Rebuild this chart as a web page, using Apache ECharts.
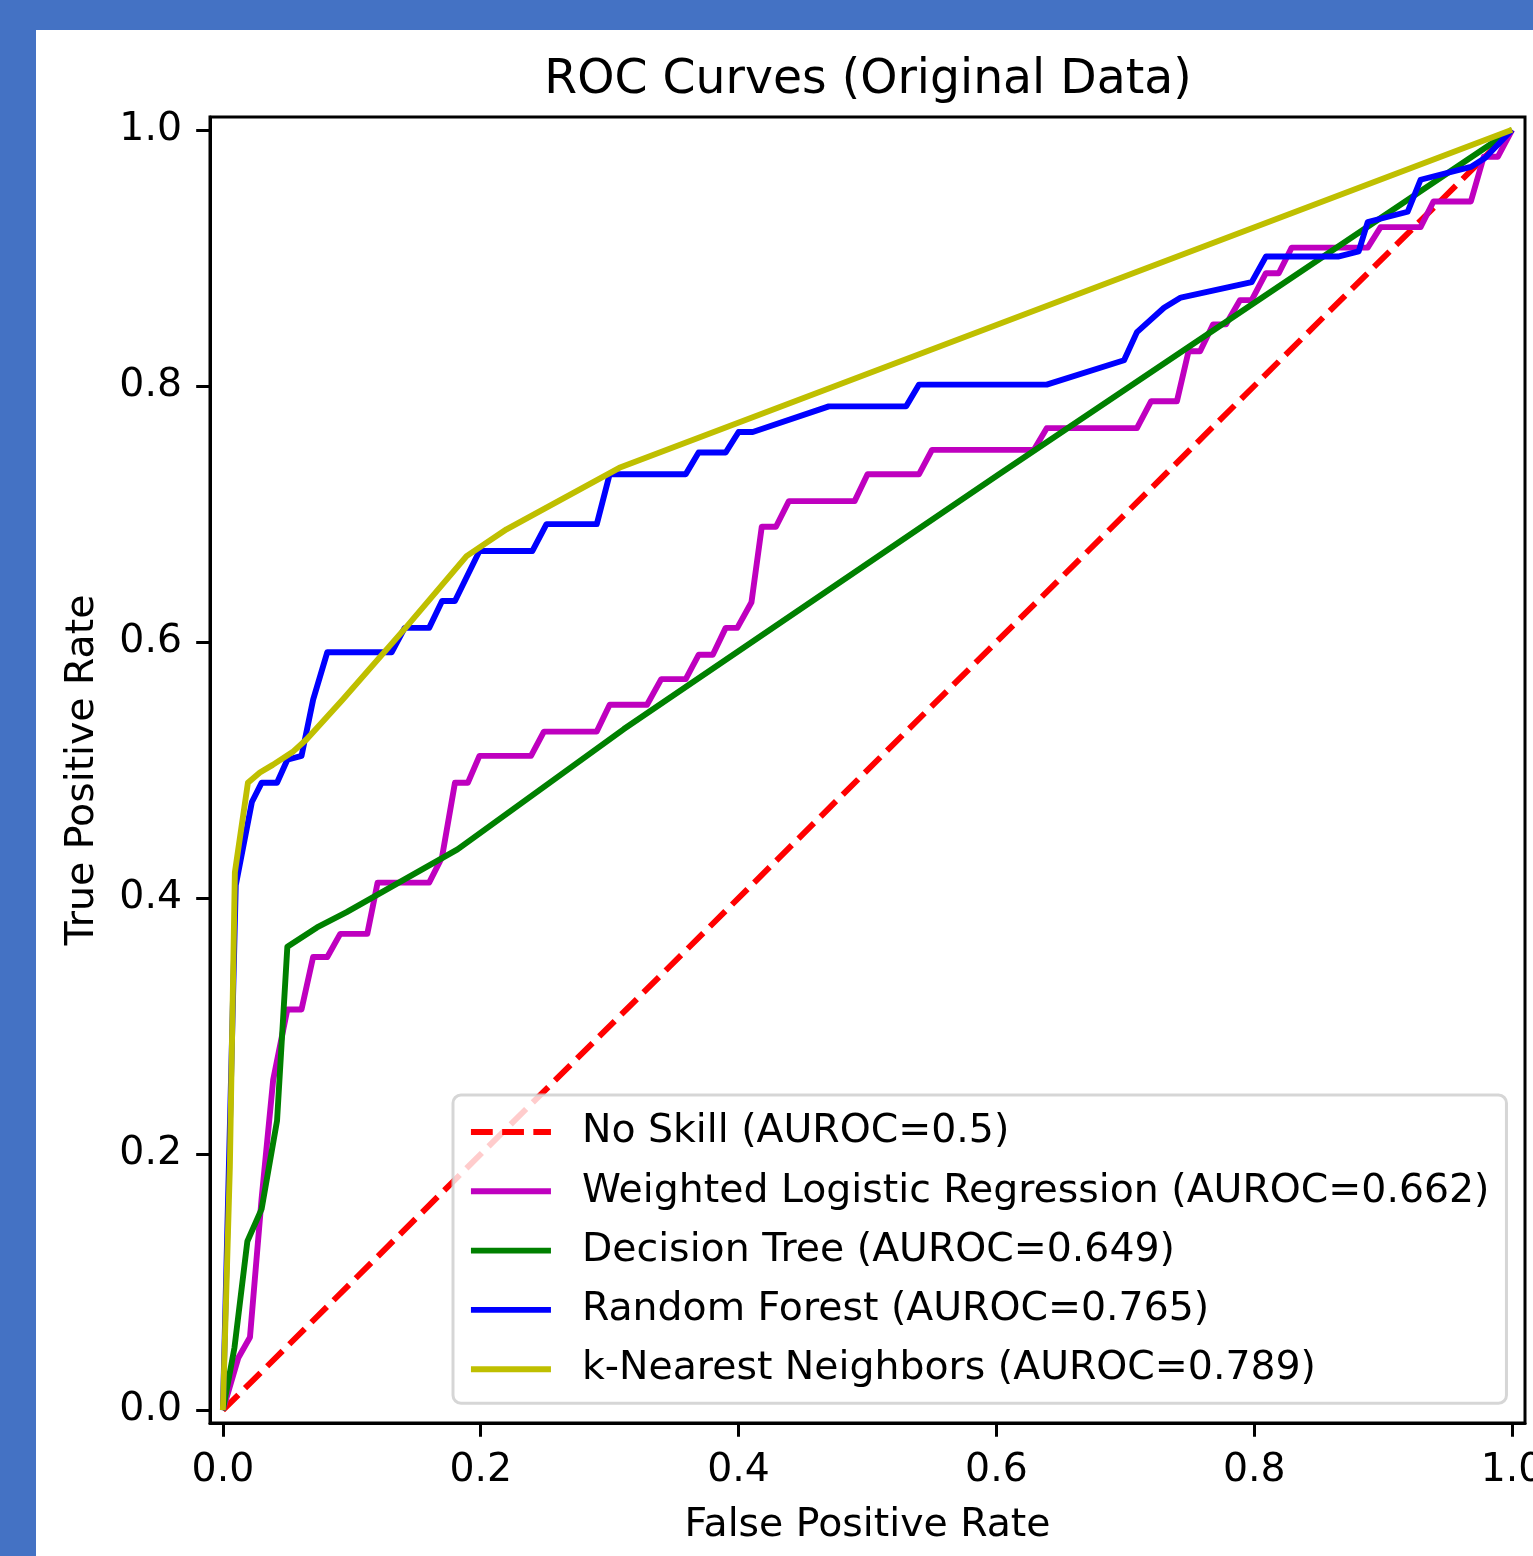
<!DOCTYPE html>
<html>
<head>
<meta charset="utf-8">
<title>ROC Curves (Original Data)</title>
<script src="https://cdn.jsdelivr.net/npm/echarts@6.0.0/dist/echarts.min.js"></script>
<style>
html, body { margin: 0; padding: 0; width: 1533px; height: 1556px; overflow: hidden; background: #4472c4; }
#chart { position: absolute; left: 36px; top: 30px; width: 1497px; height: 1526px; background: #ffffff; }
</style>
</head>
<body>
<div id="chart"></div>
<script>
// tick positions shared by both axes
const tickValues = [0, 0.2, 0.4, 0.6, 0.8, 1.0];

// No Skill
const noSkillFpr = [0, 1];
const noSkillTpr = [0, 1];

// Weighted Logistic Regression
const lrFpr = [0, 0.012, 0.021, 0.030, 0.039, 0.050, 0.061, 0.070, 0.081, 0.091, 0.112, 0.120, 0.160, 0.170, 0.180, 0.190, 0.199, 0.239, 0.249, 0.290, 0.300, 0.329, 0.340, 0.359, 0.369, 0.380, 0.390, 0.399, 0.410, 0.418, 0.429, 0.439, 0.490, 0.500, 0.540, 0.550, 0.629, 0.639, 0.709, 0.720, 0.740, 0.749, 0.758, 0.768, 0.778, 0.789, 0.798, 0.809, 0.819, 0.829, 0.888, 0.898, 0.929, 0.939, 0.968, 0.978, 0.989, 1.0];
const lrTpr = [0, 0.041, 0.057, 0.165, 0.258, 0.313, 0.313, 0.354, 0.354, 0.372, 0.372, 0.412, 0.412, 0.432, 0.490, 0.490, 0.511, 0.511, 0.530, 0.530, 0.551, 0.551, 0.571, 0.571, 0.590, 0.590, 0.611, 0.611, 0.631, 0.690, 0.690, 0.710, 0.710, 0.731, 0.731, 0.750, 0.750, 0.767, 0.767, 0.788, 0.788, 0.827, 0.827, 0.848, 0.848, 0.867, 0.867, 0.888, 0.888, 0.908, 0.908, 0.924, 0.924, 0.944, 0.944, 0.979, 0.979, 1.0];

// Decision Tree
const dtFpr = [0, 0.009, 0.019, 0.030, 0.042, 0.050, 0.073, 0.096, 0.182, 0.311, 0.602, 1.0];
const dtTpr = [0, 0.049, 0.132, 0.157, 0.226, 0.362, 0.377, 0.389, 0.438, 0.532, 0.731, 1.0];

// Random Forest
const rfFpr = [0, 0.010, 0.0225, 0.030, 0.042, 0.050, 0.061, 0.070, 0.081, 0.131, 0.141, 0.160, 0.170, 0.180, 0.199, 0.240, 0.251, 0.290, 0.300, 0.359, 0.369, 0.390, 0.400, 0.411, 0.470, 0.530, 0.540, 0.639, 0.699, 0.709, 0.730, 0.743, 0.798, 0.809, 0.865, 0.881, 0.888, 0.919, 0.929, 0.968, 0.979, 1.0];
const rfTpr = [0, 0.410, 0.475, 0.490, 0.490, 0.508, 0.511, 0.555, 0.592, 0.592, 0.611, 0.611, 0.632, 0.632, 0.671, 0.671, 0.692, 0.692, 0.731, 0.731, 0.748, 0.748, 0.764, 0.764, 0.784, 0.784, 0.801, 0.801, 0.820, 0.842, 0.861, 0.869, 0.881, 0.901, 0.901, 0.905, 0.928, 0.936, 0.961, 0.971, 0.978, 1.0];

// k-Nearest Neighbors
const knnFpr = [0, 0.0054, 0.0093, 0.0194, 0.0287, 0.0387, 0.054, 0.065, 0.093, 0.1425, 0.189, 0.220, 0.3075, 1.0];
const knnTpr = [0, 0.190, 0.420, 0.490, 0.498, 0.504, 0.514, 0.524, 0.555, 0.612, 0.667, 0.688, 0.736, 1.0];

const seriesNames = [
  'No Skill (AUROC=0.5)',
  'Weighted Logistic Regression (AUROC=0.662)',
  'Decision Tree (AUROC=0.649)',
  'Random Forest (AUROC=0.765)',
  'k-Nearest Neighbors (AUROC=0.789)'
];
const seriesColors = ['#ff0000', '#bf00bf', '#008000', '#0000ff', '#bfbf00'];

function pairs(xs, ys) {
  return xs.map((x, i) => [x, ys[i]]);
}

const curves = [
  pairs(noSkillFpr, noSkillTpr),
  pairs(lrFpr, lrTpr),
  pairs(dtFpr, dtTpr),
  pairs(rfFpr, rfTpr),
  pairs(knnFpr, knnTpr)
];

const font = 'DejaVu Sans';
const labelSize = 39.4;

const chart = echarts.init(document.getElementById('chart'), null, { renderer: 'canvas' });

const axisCommon = {
  type: 'value',
  min: -0.01,
  max: 1.01,
  axisLine: { show: true, onZero: false, lineStyle: { color: '#000', width: 3 } },
  axisTick: { show: true, inside: false, length: 13.8, lineStyle: { color: '#000', width: 3 }, customValues: tickValues },
  splitLine: { show: false },
  nameLocation: 'middle',
  nameTextStyle: { fontFamily: font, fontSize: labelSize, color: '#000' }
};

const option = {
  animation: false,
  backgroundColor: '#ffffff',
  title: {
    text: 'ROC Curves (Original Data)',
    left: 832,
    top: 27,
    padding: 0,
    textAlign: 'center',
    textStyle: { fontFamily: font, fontSize: 47.3, fontWeight: 'normal', color: '#000' }
  },
  grid: {
    left: 174,
    top: 87,
    right: 8,
    bottom: 133,
    outerBoundsMode: 'none',
    containLabel: false,
    show: true,
    borderColor: '#000',
    borderWidth: 3,
    backgroundColor: 'transparent'
  },
  xAxis: Object.assign({}, axisCommon, {
    name: 'False Positive Rate',
    nameGap: 83,
    axisLabel: {
      customValues: tickValues,
      formatter: v => v.toFixed(1),
      fontFamily: font, fontSize: labelSize, color: '#000', margin: 28
    }
  }),
  yAxis: Object.assign({}, axisCommon, {
    name: 'True Positive Rate',
    nameGap: 108,
    nameRotate: 90,
    axisLabel: {
      customValues: tickValues,
      formatter: v => v.toFixed(1),
      fontFamily: font, fontSize: labelSize, color: '#000', margin: 28
    }
  }),
  legend: {
    orient: 'vertical',
    left: 417,
    top: 1065,
    padding: [14, 17, 11, 15],
    itemGap: 13.3,
    itemWidth: 80,
    itemHeight: 14,
    backgroundColor: 'rgba(255,255,255,0.8)',
    borderColor: 'rgba(204,204,204,0.8)',
    borderWidth: 3,
    borderRadius: 8,
    selectedMode: false,
    lineStyle: { width: 5.9 },
    itemStyle: { opacity: 0 },
    textStyle: { fontFamily: font, fontSize: labelSize, color: '#000', lineHeight: 46, padding: [0, 0, 0, 26] },
    data: seriesNames
  },
  series: curves.map((data, i) => ({
    name: seriesNames[i],
    type: 'line',
    data: data,
    symbol: 'none',
    showSymbol: false,
    smooth: false,
    color: seriesColors[i],
    lineStyle: {
      color: seriesColors[i],
      width: 5.9,
      type: i === 0 ? [21.8, 9.4] : 'solid',
      join: 'round',
      cap: 'butt'
    }
  }))
};

chart.setOption(option);
</script>
</body>
</html>
